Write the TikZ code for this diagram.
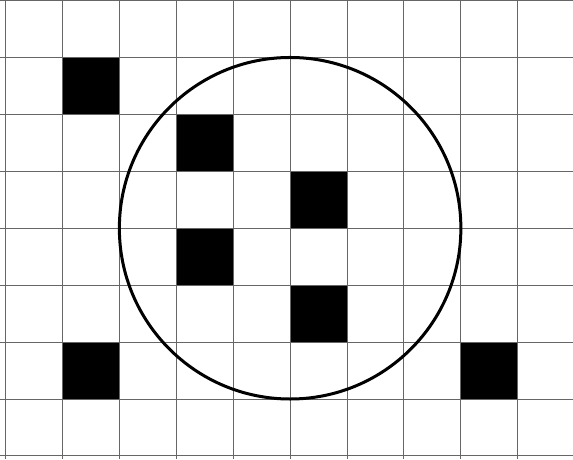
\documentclass[tikz,border=0pt]{standalone}
\begin{document}
\begin{tikzpicture}[scale=1]
    \useasboundingbox (-0.097,-0.058) rectangle (9.97,8.01);

    % Black cells
    \foreach \c/\r in {1/6, 3/5, 5/4, 3/3, 5/2, 1/1, 8/1}
        \fill[black] (\c,\r) rectangle ++(1,1);

    % Grid
    \draw[black!60, line width=0.5pt] (-0.097,-0.058) grid (9.97,8.01);

    % The circle
    \draw[line width=1.5pt] (5,4) circle (3);
\end{tikzpicture}
\end{document}
